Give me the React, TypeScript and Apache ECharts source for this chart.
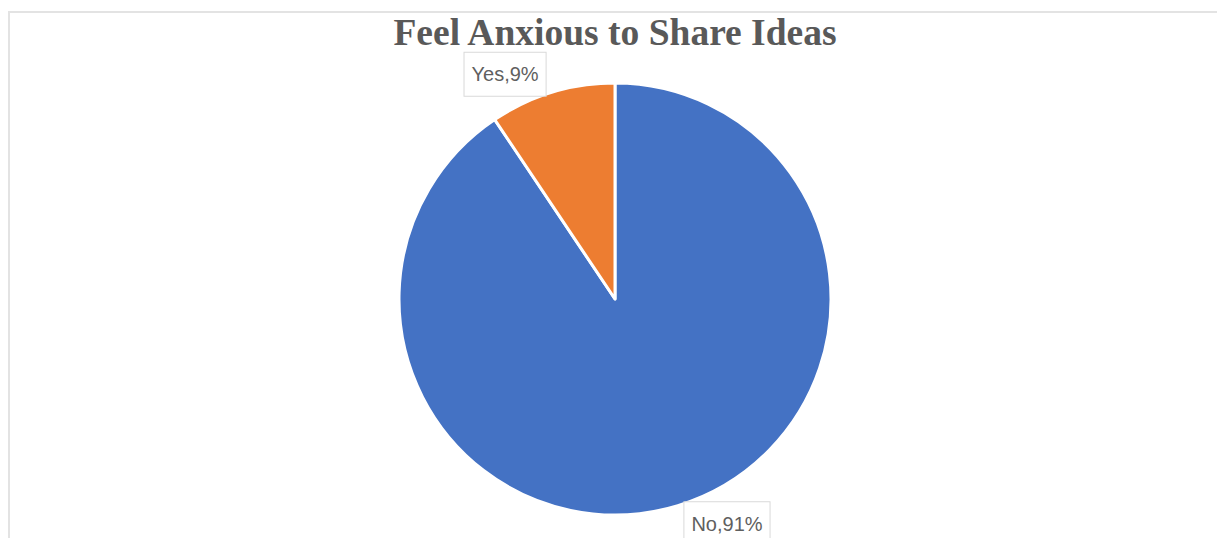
import React, { useEffect, useRef } from "react";
import * as echarts from "echarts";

const titleText = "Feel Anxious to Share Ideas";
const categories = ["No", "Yes"];
const values = [90.6, 9.4];
const colors = ["#4472C4", "#ED7D31"];

export default function App() {
  const ref = useRef<HTMLDivElement>(null);
  useEffect(() => {
    if (!ref.current) return;
    const chart = echarts.init(ref.current, undefined, { renderer: "svg" });
    chart.setOption({
      animation: false,
      backgroundColor: "#ffffff",
      title: {
        text: titleText,
        left: 610,
        textAlign: "center",
        top: 8,
        textStyle: {
          fontFamily: "Liberation Serif",
          fontWeight: "bold",
          fontSize: 37.5,
          color: "#595959",
        },
      },
      graphic: [
        {
          type: "rect",
          shape: { x: 9, y: 12, width: 1300, height: 700 },
          style: { fill: "none", stroke: "#e3e3e3", lineWidth: 2 },
          silent: true,
        },
      ],
      series: [
        {
          type: "pie",
          center: [615, 299],
          radius: 216,
          startAngle: 90,
          clockwise: true,
          avoidLabelOverlap: false,
          percentPrecision: 0,
          itemStyle: { borderColor: "#ffffff", borderWidth: 3 },
          label: {
            show: true,
            position: "outside",
            formatter: "{b},{d}%",
            fontFamily: "Liberation Sans",
            fontSize: 20,
            lineHeight: 23,
            color: "#5f5f5f",
            backgroundColor: "#ffffff",
            borderColor: "#d9d9d9",
            borderWidth: 1,
            padding: [10, 7],
            distanceToLabelLine: 0,
          },
          labelLine: { show: false, length: 19, length2: 1 },
          data: categories.map((c, i) => ({
            name: c,
            value: values[i],
            itemStyle: { color: colors[i] },
          })),
        },
      ],
    });
    return () => chart.dispose();
  }, []);
  return (
    <div
      ref={ref}
      style={{ position: "fixed", left: 0, top: 0, width: 1217, height: 538 }}
    />
  );
}
